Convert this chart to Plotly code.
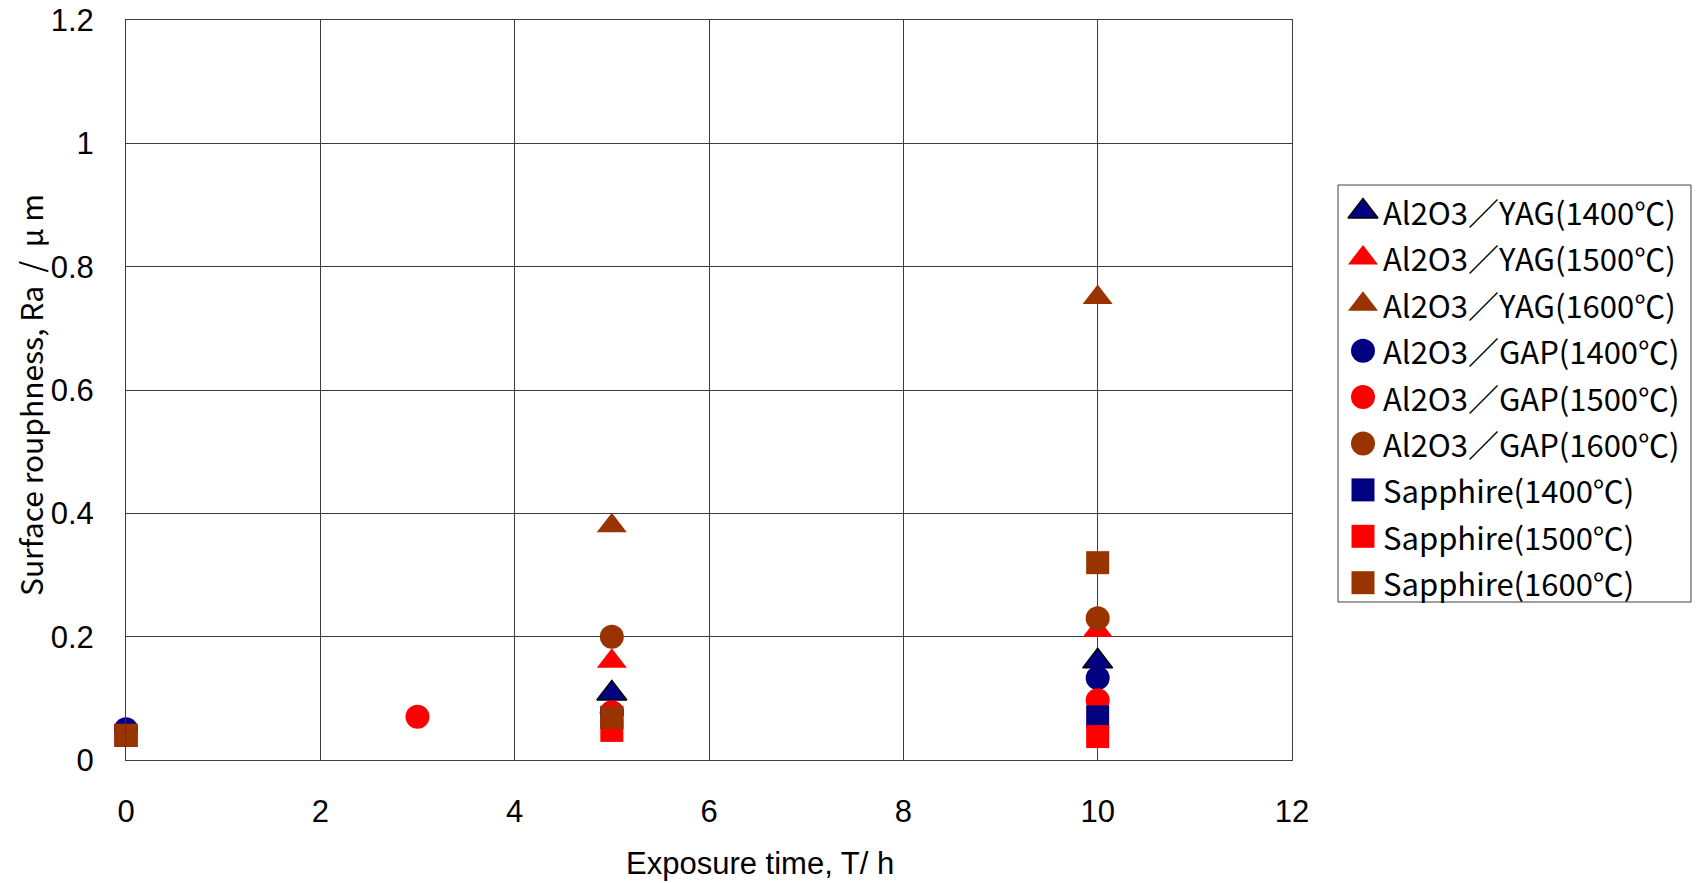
import plotly.graph_objects as go

# Exposure time (h) and surface roughness Ra (µm) for each material / temperature
yag_1400_t = [5, 10]
yag_1400_ra = [0.108, 0.16]
yag_1500_t = [5, 10]
yag_1500_ra = [0.16, 0.21]
yag_1600_t = [5, 10]
yag_1600_ra = [0.38, 0.75]

gap_1400_t = [0, 5, 10]
gap_1400_ra = [0.05, 0.077, 0.133]
gap_1500_t = [3, 5, 10]
gap_1500_ra = [0.07, 0.077, 0.097]
gap_1600_t = [5, 10]
gap_1600_ra = [0.20, 0.23]

sap_1400_t = [0, 5, 10]
sap_1400_ra = [0.04, 0.069, 0.07]
sap_1500_t = [0, 5, 10]
sap_1500_ra = [0.04, 0.048, 0.038]
sap_1600_t = [0, 5, 10]
sap_1600_ra = [0.04, 0.069, 0.32]

series_names = [
    "Al2O3／YAG(1400℃)", "Al2O3／YAG(1500℃)", "Al2O3／YAG(1600℃)",
    "Al2O3／GAP(1400℃)", "Al2O3／GAP(1500℃)", "Al2O3／GAP(1600℃)",
    "Sapphire(1400℃)", "Sapphire(1500℃)", "Sapphire(1600℃)",
]
x_ticks = [0, 2, 4, 6, 8, 10, 12]
y_ticks = [0, 0.2, 0.4, 0.6, 0.8, 1, 1.2]
y_tick_text = ["0", "0.2", "0.4", "0.6", "0.8", "1", "1.2"]

NAVY = "#000080"
RED = "#FF0000"
BROWN = "#993300"
FONT = "Noto Sans CJK JP"
TICK_FONT = "Liberation Sans"

W, H = 1700, 883
# plot area in pixels
PL, PR, PT, PB = 126, 1292, 20, 760
# legend box in pixels
LL, LR, LT, LB = 1338, 1691, 185, 602

series = [
    (yag_1400_t, yag_1400_ra, "triangle-up", NAVY, "black", 1.5),
    (yag_1500_t, yag_1500_ra, "triangle-up", RED, RED, 0),
    (yag_1600_t, yag_1600_ra, "triangle-up", BROWN, BROWN, 0),
    (gap_1400_t, gap_1400_ra, "circle", NAVY, NAVY, 0),
    (gap_1500_t, gap_1500_ra, "circle", RED, RED, 0),
    (gap_1600_t, gap_1600_ra, "circle", BROWN, BROWN, 0),
    (sap_1400_t, sap_1400_ra, "square", NAVY, NAVY, 0),
    (sap_1500_t, sap_1500_ra, "square", RED, RED, 0),
    (sap_1600_t, sap_1600_ra, "square", BROWN, BROWN, 0),
]

MSIZE = {"triangle-up": 26, "circle": 24, "square": 23}

fig = go.Figure()
for (t, ra, sym, col, lcol, lw), name in zip(series, series_names):
    fig.add_trace(go.Scatter(
        x=t, y=ra, mode="markers", name=name, showlegend=False,
        cliponaxis=False,
        marker=dict(symbol=sym, size=MSIZE[sym], color=col,
                    line=dict(color=lcol, width=lw)),
        xaxis="x", yaxis="y",
    ))

# legend drawn on its own small axis so the symbols keep full size
row_h = 46.4
first_row = 211.5
y2_top = (LT - first_row) / row_h
y2_bot = (LB - first_row) / row_h
marker_x = (1363 - LL) / (LR - LL)
text_x = (1381 - LL) / (LR - LL)
for i, ((t, ra, sym, col, lcol, lw), name) in enumerate(zip(series, series_names)):
    fig.add_trace(go.Scatter(
        x=[marker_x], y=[i], mode="markers", showlegend=False, hoverinfo="skip",
        marker=dict(symbol=sym, size=MSIZE[sym], color=col,
                    line=dict(color=lcol, width=lw)),
        xaxis="x2", yaxis="y2",
    ))
    fig.add_annotation(
        x=text_x, y=i, xref="x2", yref="y2", text=name, showarrow=False,
        xanchor="left", yanchor="middle",
        font=dict(family=FONT, size=31, color="black"),
    )

fig.add_shape(
    type="rect", xref="paper", yref="paper",
    x0=LL / W, x1=LR / W, y0=1 - LB / H, y1=1 - LT / H,
    line=dict(color="#404040", width=1), fillcolor="rgba(0,0,0,0)",
)

grid = "#3c3c3c"
fig.update_layout(
    width=W, height=H, autosize=False,
    margin=dict(l=0, r=0, t=0, b=0),
    paper_bgcolor="white", plot_bgcolor="white",
    font=dict(family=FONT, color="black"),
    xaxis=dict(
        domain=[PL / W, PR / W], range=[0, 12], tickvals=x_ticks,
        automargin=False,
        showgrid=True, gridcolor=grid, gridwidth=1,
        showline=True, linecolor=grid, linewidth=1, mirror=True,
        zeroline=False, ticks="", ticklabelstandoff=24,
        ticklabeloverflow="allow",
        tickfont=dict(family=TICK_FONT, size=31, color="black"),
    ),
    yaxis=dict(
        domain=[1 - PB / H, 1 - PT / H], range=[0, 1.2001], tickvals=y_ticks,
        ticktext=y_tick_text, automargin=False,
        showgrid=True, gridcolor=grid, gridwidth=1,
        showline=True, linecolor=grid, linewidth=1, mirror=True,
        zeroline=False, ticks="", ticklabelstandoff=25,
        ticklabeloverflow="allow",
        tickfont=dict(family=TICK_FONT, size=31, color="black"),
    ),
    xaxis2=dict(domain=[LL / W, LR / W], range=[0, 1], visible=False,
                anchor="y2", fixedrange=True, automargin=False),
    yaxis2=dict(domain=[1 - LB / H, 1 - LT / H], range=[y2_bot, y2_top],
                visible=False, anchor="x2", fixedrange=True, automargin=False),
    showlegend=False,
)

# axis titles
fig.add_annotation(
    x=760 / W, y=1 - 863 / H, xref="paper", yref="paper",
    text="Exposure time, T/ h", showarrow=False,
    xanchor="center", yanchor="middle",
    font=dict(family=TICK_FONT, size=31, color="black"),
)
fig.add_annotation(
    x=30 / W, y=1 - 395 / H, xref="paper", yref="paper",
    text="Surface rouphness, Ra  /  μ m", showarrow=False, textangle=-90,
    xanchor="center", yanchor="middle",
    font=dict(family=FONT, size=30, color="black"),
)

# page without default body margin so the figure sits at the window origin
fig.write_html(
    "out.html",
    post_script="document.body.style.margin='0';"
                "document.documentElement.style.overflow='hidden';",
)
